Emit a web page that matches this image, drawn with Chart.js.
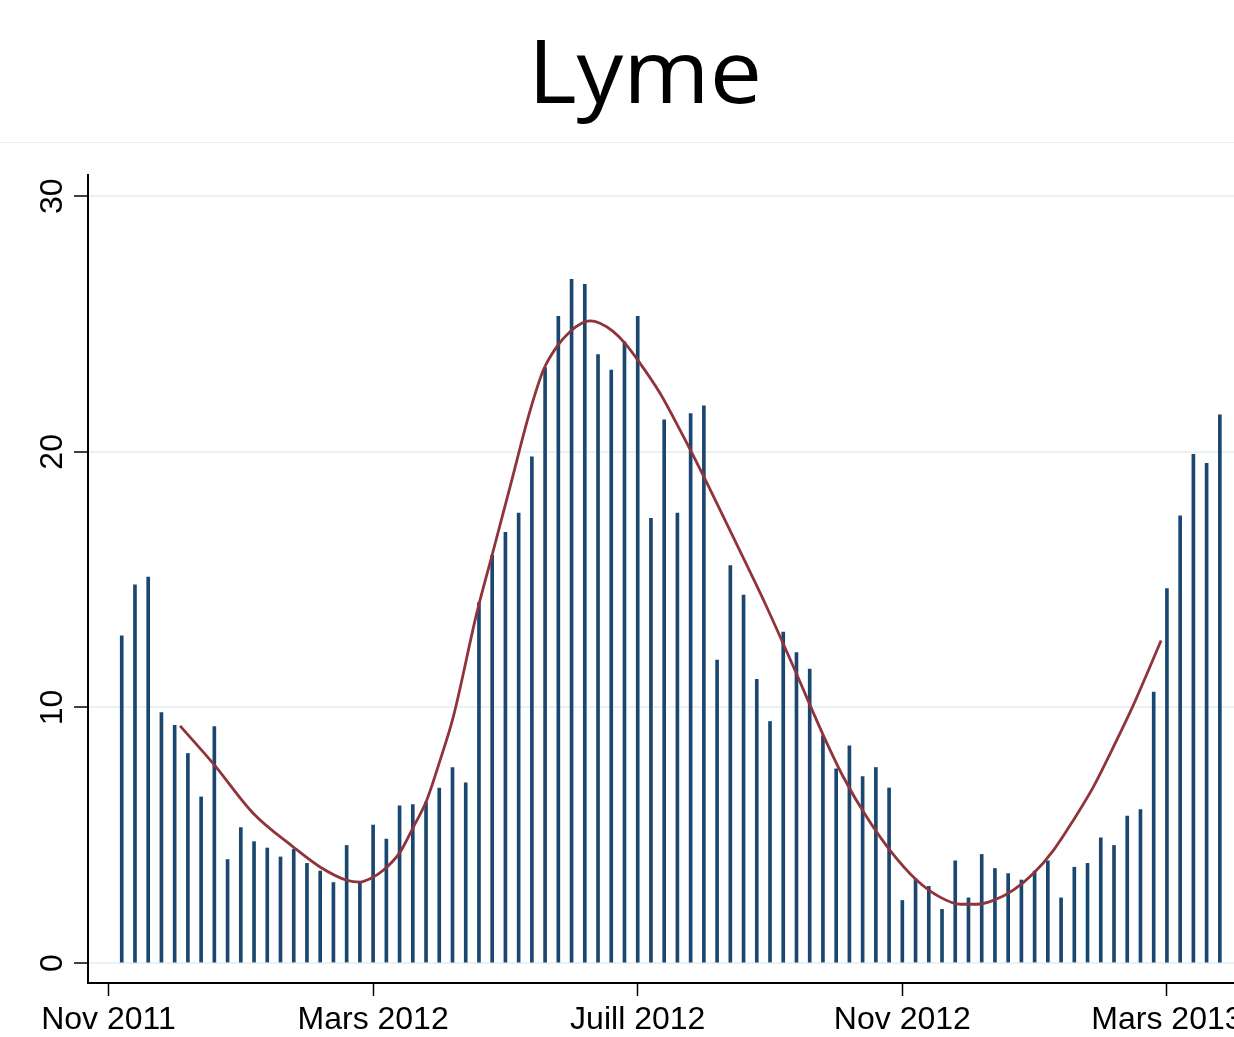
<!DOCTYPE html>
<html>
<head>
<meta charset="utf-8">
<script src="https://cdn.jsdelivr.net/npm/chart.js@4.4.0/dist/chart.umd.min.js"></script>
<style>
html,body{margin:0;padding:0;background:#fff;overflow:hidden;width:1234px;height:1037px;}
#title{position:absolute;left:0;top:25px;width:1290px;text-align:center;font-family:'Open Sans',sans-serif;font-size:88px;line-height:1;color:#000;transform:scaleX(1.06);transform-origin:645px 0;}
#sep{position:absolute;left:0;top:142px;width:1234px;height:1px;background:#e6eeef;}
#wrap{position:absolute;left:0;top:0;width:1300px;height:1037px;}
</style>
</head>
<body>
<div id="title">Lyme</div>
<div id="sep"></div>
<div id="wrap"><canvas id="c" width="1300" height="1037"></canvas></div>
<script>
// Weekly case counts (bar heights), bars at positions 0..83
const cases = [12.8, 14.8, 15.1, 9.8, 9.3, 8.2, 6.5, 9.25, 4.05, 5.3,
  4.75, 4.5, 4.15, 4.45, 3.9, 3.6, 3.15, 4.6, 3.2, 5.4,
  4.85, 6.15, 6.2, 6.3, 6.85, 7.65, 7.05, 14.1, 15.95, 16.85,
  17.6, 19.8, 23.3, 25.3, 26.75, 26.55, 23.8, 23.2, 24.3, 25.3,
  17.4, 21.25, 17.6, 21.5, 21.8, 11.85, 15.55, 14.4, 11.1, 9.45,
  12.95, 12.15, 11.5, 8.9, 7.6, 8.5, 7.3, 7.65, 6.85, 2.45,
  3.3, 3.0, 2.1, 4.0, 2.55, 4.25, 3.7, 3.5, 3.25, 3.6,
  4.0, 2.55, 3.75, 3.9, 4.9, 4.6, 5.75, 6.0, 10.6, 14.65,
  17.5, 19.9, 19.55, 21.45];

// Fitted seasonal curve
const curveX = [4.41, 6.92, 9.95, 12.97, 14.99, 17.01, 18.03, 18.77, 19.77, 21.04,
  22.04, 23.05, 24.06, 25.06, 26.83, 28.09, 29.35, 30.86, 31.87, 32.88,
  33.88, 34.77, 35.40, 36.15, 37.16, 38.04, 39.18, 40.69, 42.20, 43.20,
  44.22, 46.23, 48.75, 50.76, 53.03, 54.54, 56.31, 58.07, 60.09, 61.85,
  63.36, 64.63, 65.88, 67.39, 68.90, 70.42, 71.93, 73.44, 74.95, 76.46, 78.56];
const curveY = [9.28, 7.80, 5.85, 4.54, 3.76, 3.24, 3.17, 3.30, 3.63, 4.34,
  5.32, 6.37, 7.93, 9.63, 13.68, 16.15, 18.63, 21.6, 23.20, 24.11,
  24.70, 25.03, 25.12, 25.03, 24.70, 24.24, 23.46, 22.29, 20.85, 19.85,
  18.80, 16.65, 13.93, 11.60, 8.91, 7.28, 5.71, 4.41, 3.24, 2.58,
  2.30, 2.30, 2.45, 2.85, 3.50, 4.41, 5.59, 6.89, 8.45, 10.09, 12.62];

const xTickValues = [-1, 19, 39, 59, 79];
const xTickLabels = ['Nov 2011', 'Mars 2012', 'Juill 2012', 'Nov 2012', 'Mars 2013'];
const yTickValues = [0, 10, 20, 30];
const yTickLabels = ['0', '10', '20', '30'];

const barData = cases.map((v, i) => ({x: i, y: v}));
const curveData = curveX.map((x, i) => ({x: x, y: curveY[i]}));

const yLabelPlugin = {
  id: 'yLabels',
  afterDraw(chart) {
    const ctx = chart.ctx;
    const ys = chart.scales.y;
    ctx.save();
    ctx.font = '32px "Liberation Sans", Arial, sans-serif';
    ctx.fillStyle = '#000';
    ctx.textAlign = 'center';
    ctx.textBaseline = 'alphabetic';
    yTickValues.forEach((v, i) => {
      const py = ys.getPixelForValue(v);
      ctx.save();
      ctx.translate(62, py);
      ctx.rotate(-Math.PI / 2);
      ctx.fillText(yTickLabels[i], 0, 0);
      ctx.restore();
    });
    ctx.restore();
  }
};

new Chart(document.getElementById('c'), {
  type: 'bar',
  data: {
    datasets: [
      {
        type: 'line',
        data: curveData,
        borderColor: '#8f343b',
        borderWidth: 2.8,
        pointRadius: 0,
        cubicInterpolationMode: 'monotone',
        fill: false,
        order: 0
      },
      {
        type: 'bar',
        data: barData,
        backgroundColor: '#1a476f',
        barThickness: 3,
        order: 1
      }
    ]
  },
  options: {
    responsive: false,
    animation: false,
    layout: {padding: {top: 175, left: 0, right: 14, bottom: 0}},
    plugins: {legend: {display: false}, tooltip: {enabled: false}, title: {display: false}},
    scales: {
      x: {
        type: 'linear',
        min: -2.55,
        max: 88,
        offset: false,
        afterBuildTicks: s => { s.ticks = xTickValues.map(v => ({value: v})); },
        afterFit: s => { s.height = 54; },
        ticks: {
          callback: (v, i) => xTickLabels[i],
          font: {family: '"Liberation Sans", Arial, sans-serif', size: 32},
          color: '#000',
          maxRotation: 0,
          minRotation: 0,
          autoSkip: false,
          padding: 5
        },
        grid: {display: true, drawOnChartArea: false, drawTicks: true, tickLength: 13, tickColor: '#000', tickWidth: 1.5, offset: false},
        border: {display: true, color: '#000', width: 2}
      },
      y: {
        type: 'linear',
        min: -0.78,
        max: 30.83,
        afterBuildTicks: s => { s.ticks = yTickValues.map(v => ({value: v})); },
        afterFit: s => { s.width = 88; },
        ticks: {display: false},
        grid: {color: '#e9f1f3', lineWidth: 2, drawTicks: true, tickLength: 14, tickColor: '#000', tickWidth: 1.5},
        border: {display: true, color: '#000', width: 2}
      }
    }
  },
  plugins: [yLabelPlugin]
});
</script>
</body>
</html>
